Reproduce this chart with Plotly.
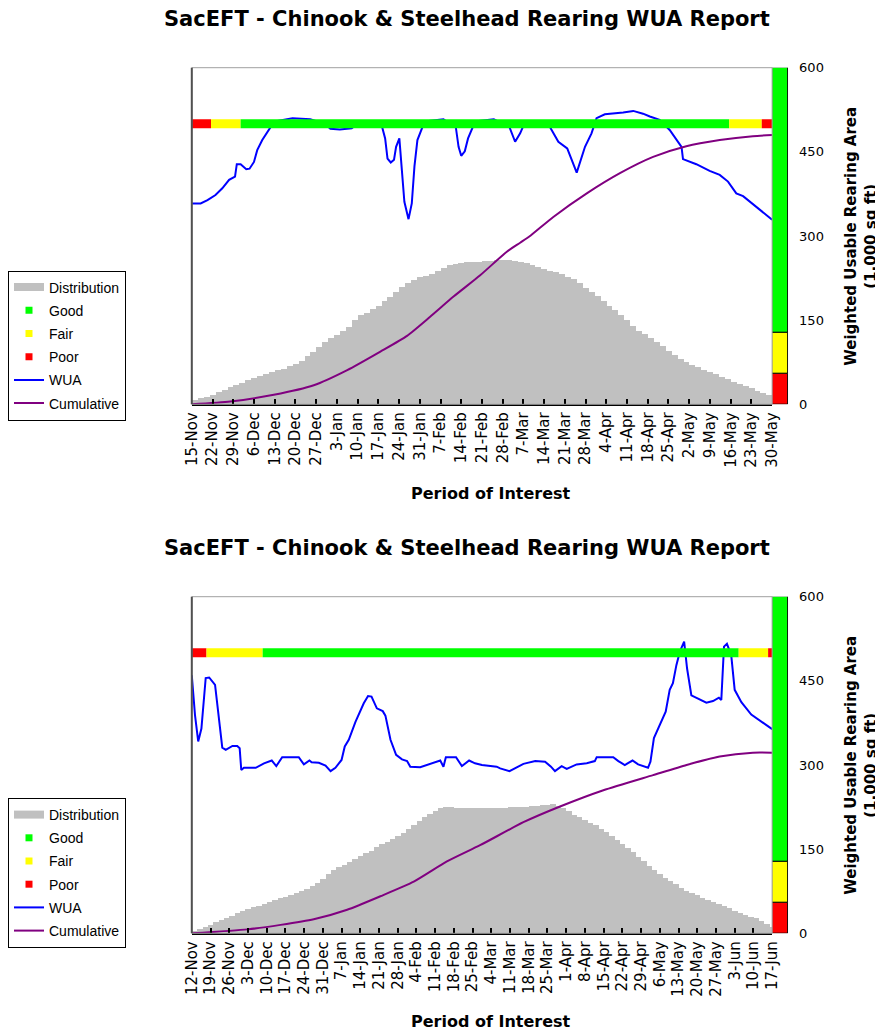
import plotly.graph_objects as go

# ------------------------------------------------------------------ DATA
# Top chart: 15-Nov .. 30-May (day index 0 .. 196)
top_tick_labels = ["15-Nov", "22-Nov", "29-Nov", "6-Dec", "13-Dec", "20-Dec", "27-Dec",
                   "3-Jan", "10-Jan", "17-Jan", "24-Jan", "31-Jan", "7-Feb", "14-Feb",
                   "21-Feb", "28-Feb", "7-Mar", "14-Mar", "21-Mar", "28-Mar", "4-Apr",
                   "11-Apr", "18-Apr", "25-Apr", "2-May", "9-May", "16-May", "23-May", "30-May"]
top_days = 196
# distribution (2-day bins starting at day 0, 2, 4, ...)
top_dist = [8, 11, 14, 18, 22, 26, 31, 35, 39, 43, 47, 51, 55, 58, 61, 64, 68, 72, 77, 86,
            94, 103, 111, 118, 124, 132, 139, 150, 159, 164, 170, 176, 184, 192, 200, 209,
            217, 222, 227, 230, 233, 238, 243, 248, 250, 252, 254, 255, 255, 256, 256, 257,
            257, 257, 256, 255, 252, 248, 245, 242, 239, 236, 232, 228, 224, 216, 208, 201,
            193, 184, 176, 168, 159, 150, 141, 132, 125, 118, 112, 104, 96, 89, 82, 76, 71,
            67, 62, 58, 54, 49, 45, 41, 37, 33, 29, 25, 21, 17, 12]
top_wua_day = [0, 3, 5.3, 8, 10.3, 12.6, 14.6, 15.2, 16.5, 18.4, 19.5, 21, 22.1, 23.8, 26.6,
               29, 34, 40, 45, 46.8, 50, 54, 56, 60, 64.3, 65.3, 66.1, 67.2, 68.3, 69, 70.1,
               70.9, 71.8, 73.2, 74.3, 75.2, 76.2, 77.9, 80, 85, 89.2, 90.1, 91, 92.2, 93.3,
               94.9, 97, 102, 107.3, 109.2, 110.9, 111.8, 114, 118, 121, 123.8, 126.8, 130,
               132.8, 135, 136.7, 139.5, 142.3, 145.7, 149.1, 152.4, 154.7, 158, 161.4, 163.7,
               165.4, 165.9, 170.4, 174.9, 178.3, 181.1, 183.9, 186.2, 190.7, 194, 196]
top_wua = [358, 358, 364, 373, 385, 400, 406, 428, 428, 419, 420, 432, 453, 471, 494,
           505, 510, 508, 500, 491, 490, 492, 500, 505, 494, 474, 438, 431, 436, 459, 474,
           424, 361, 330, 358, 424, 471, 494, 505, 508, 493, 459, 443, 451, 474,
           494, 505, 508, 494, 468, 483, 494, 502, 502, 494, 468, 456, 413,
           459, 483, 510, 517, 518, 520, 523, 518, 513, 507, 489, 471,
           459, 437, 428, 416, 409, 397, 376, 371, 352, 339, 329]
top_cum_day = [0, 13, 27.7, 41.2, 52.5, 63.7, 72.7, 80.5, 88.4, 97.4, 106.4, 110.9, 114,
               122.1, 133.4, 144.6, 155.8, 167, 178.3, 189.5, 196]
top_cum = [0, 5, 17, 34, 61, 94, 122, 156, 192, 230, 272, 288, 299,
           334, 376, 412, 441, 460, 471, 478, 480]
top_status = ["Poor", "Fair", "Good", "Fair", "Poor"]
top_status_len = [7, 10, 165, 11, 4]

# Bottom chart: 12-Nov .. 17-Jun (day index 0 .. 217)
bot_tick_labels = ["12-Nov", "19-Nov", "26-Nov", "3-Dec", "10-Dec", "17-Dec", "24-Dec",
                   "31-Dec", "7-Jan", "14-Jan", "21-Jan", "28-Jan", "4-Feb", "11-Feb",
                   "18-Feb", "25-Feb", "4-Mar", "11-Mar", "18-Mar", "25-Mar", "1-Apr",
                   "8-Apr", "15-Apr", "22-Apr", "29-Apr", "6-May", "13-May", "20-May",
                   "27-May", "3-Jun", "10-Jun", "17-Jun"]
bot_days = 217
bot_dist = [5, 8, 12, 15, 20, 24, 28, 32, 36, 40, 44, 47, 50, 53, 56, 60, 63, 66, 69, 72,
            76, 80, 85, 90, 98, 106, 113, 118, 123, 128, 133, 138, 143, 148, 154, 159, 164,
            169, 174, 180, 187, 193, 200, 207, 214, 219, 224, 225, 225, 224, 224, 224, 224,
            224, 224, 224, 224, 224, 224, 225, 225, 226, 226, 227, 228, 229, 230, 231, 228,
            224, 218, 212, 207, 203, 198, 193, 187, 181, 174, 167, 160, 152, 145, 137, 129,
            121, 114, 107, 100, 94, 88, 82, 76, 72, 68, 64, 60, 57, 53, 49, 45, 41, 37, 34,
            30, 27, 23, 18, 12]
bot_wua_day = [0, 1.2, 2.4, 3.6, 5.2, 6.5, 8.7, 10, 11.4, 12.7, 15.2, 17, 17.9, 18.5, 19.5,
               23.9, 27, 29.9, 31.6, 33.8, 40, 41.9, 44, 44.8, 47.5, 50, 51.9, 53.7, 56, 57.2,
               58.7, 61.2, 63.1, 64.3, 65.9, 67.2, 69.2, 71.4, 72.4, 74.3, 76.4, 78.6, 80.5,
               81.7, 85.4, 91, 92.9, 94.1, 95, 98.8, 100, 101, 103.7, 105.9, 108.5, 114,
               115.3, 118.8, 124, 128.4, 132.1, 134.3, 135.8, 138.3, 140.2, 143.9, 147.7,
               150.7, 151.4, 157.6, 159.5, 161.9, 164.8, 166.9, 170.6, 171.5, 172.8, 175,
               177.2, 178.7, 179.9, 181.2, 182.5, 184.1, 185.2, 186.8, 189.3, 192.4, 194.9,
               197.1, 198, 199, 200.1, 201.7, 203, 205.5, 209.2, 213, 217]
bot_wua = [460, 389, 342, 365, 455, 456, 443, 383, 331, 327, 334, 334, 330, 291, 295,
           295, 303, 308, 298, 314, 314, 301, 308, 305, 304, 299, 289, 295, 309, 333,
           345, 377, 398, 410, 423, 422, 401, 396, 388, 345, 318, 310, 307,
           297, 296, 306, 308, 297, 314, 314, 304, 298, 308, 303, 300, 297,
           294, 289, 302, 307, 306, 297, 289, 298, 293, 301, 303,
           307, 314, 314, 307, 300, 308, 301, 295, 306, 348, 371,
           395, 434, 446, 478, 502, 520, 472, 424, 418, 411, 414,
           420, 416, 511, 516, 496, 434, 412, 390, 377, 364]
bot_cum_day = [0, 20.8, 33.2, 45.6, 58.1, 70.5, 83, 95.4, 107.8, 124, 137.7, 153.9, 172.5,
               185, 197.4, 209.8, 217]
bot_cum = [0, 7, 15, 25, 42, 66, 92, 128, 157, 198, 226, 255, 282, 300, 315, 322, 322]
bot_status = ["Poor", "Fair", "Good", "Fair", "Poor"]
bot_status_len = [6, 21, 178, 11, 2]

# habitat quality thresholds (WUA, 1,000 sq ft)
class_names = ["Poor", "Fair", "Good"]
class_upper = [55, 128, 600]

# ------------------------------------------------------------------ STYLE
WIN_W, WIN_H = 883, 1031
OFF = 8                      # default page body margin
W, H = WIN_W - OFF, WIN_H - OFF
COL = {"Good": "#00FF00", "Fair": "#FFFF00", "Poor": "#FF0000"}
GREY = "#C0C0C0"
BLUE = "#0000FF"
PURPLE = "#800080"
TICKFONT = dict(family="DejaVu Sans", size=15, color="#000000")
status_level = 500
bin_width = 2


def px_x(v):
    return (v - OFF) / W


def px_y(v):
    return 1 - (v - OFF) / H


fig = go.Figure()

panels = [
    dict(sfx="", xs="x", ys="y", x3="x3", leg="legend", days=top_days,
         labels=top_tick_labels, dist=top_dist, wd=top_wua_day, w=top_wua,
         cd=top_cum_day, c=top_cum, st=top_status, stl=top_status_len,
         top=67.7, bottom=404.3, legtop=270.5, title_y=19, xt_y=493),
    dict(sfx="2", xs="x2", ys="y2", x3="x4", leg="legend2", days=bot_days,
         labels=bot_tick_labels, dist=bot_dist, wd=bot_wua_day, w=bot_wua,
         cd=bot_cum_day, c=bot_cum, st=bot_status, stl=bot_status_len,
         top=596.7, bottom=933.3, legtop=798.0, title_y=548, xt_y=1021),
]

annotations = []
shapes = []
layout_axes = {}

for i, p in enumerate(panels):
    xs, ys, x3, leg = p["xs"], p["ys"], p["x3"], p["leg"]
    g = "p%d_" % i
    # distribution bars
    fig.add_trace(go.Bar(
        x=[k * bin_width for k in range(len(p["dist"]))], y=p["dist"],
        width=bin_width, offset=0, marker=dict(color=GREY, line=dict(width=0)),
        xaxis=xs, yaxis=ys, showlegend=False, hoverinfo="skip"))
    # legend entries
    fig.add_trace(go.Scatter(x=[None], y=[None], mode="lines", name="Distribution",
                             line=dict(color=GREY, width=8), xaxis=xs, yaxis=ys,
                             legend=leg, legendgroup=g + "d", legendrank=1))
    for r, nm in enumerate(["Good", "Fair", "Poor"]):
        fig.add_trace(go.Scatter(x=[None], y=[None], mode="markers", name=nm,
                                 marker=dict(color=COL[nm], symbol="square", size=7),
                                 xaxis=xs, yaxis=ys, legend=leg,
                                 legendgroup=g + nm, legendrank=2 + r))
    # WUA & cumulative
    fig.add_trace(go.Scatter(x=p["wd"], y=p["w"], mode="lines", name="WUA",
                             line=dict(color=BLUE, width=2), xaxis=xs, yaxis=ys,
                             legend=leg, legendgroup=g + "w", legendrank=5))
    fig.add_trace(go.Scatter(x=p["cd"], y=p["c"], mode="lines", name="Cumulative",
                             line=dict(color=PURPLE, width=2, shape="spline", smoothing=0.6),
                             xaxis=xs, yaxis=ys,
                             legend=leg, legendgroup=g + "c", legendrank=6))
    # status strip
    start = 0
    for nm, ln in zip(p["st"], p["stl"]):
        fig.add_trace(go.Scatter(x=[start - 0.5, start + ln - 0.5],
                                 y=[status_level, status_level], mode="lines",
                                 line=dict(color=COL[nm], width=9), xaxis=xs, yaxis=ys,
                                 showlegend=False, hoverinfo="skip"))
        start += ln
    # colour key bar on the right
    lo = 0
    for nm, hi in zip(class_names, class_upper):
        fig.add_trace(go.Bar(x=[0.5], y=[hi - lo], base=[lo], width=1,
                             marker=dict(color=COL[nm], line=dict(color="#000000", width=1)),
                             xaxis=x3, yaxis=ys, showlegend=False, hoverinfo="skip"))
        lo = hi

    ydom = [px_y(p["bottom"]), px_y(p["top"])]
    xkey = "xaxis" + p["sfx"]
    ykey = "yaxis" + p["sfx"]
    x3key = "xaxis" + x3[1:]
    layout_axes[xkey] = dict(
        domain=[px_x(191), px_x(772)], anchor=ys, range=[0, p["days"]],
        tickmode="array", tickvals=[7 * k for k in range(len(p["labels"]))],
        ticktext=p["labels"], tickangle=-90, tickfont=TICKFONT,
        ticks="inside", ticklen=5, tickwidth=2, tickcolor="#000000",
        showline=True, linecolor="#000000", linewidth=2, showgrid=False,
        zeroline=False, fixedrange=True, automargin=False)
    layout_axes[x3key] = dict(domain=[px_x(772), px_x(788)], anchor=ys, range=[0, 1],
                              visible=False, fixedrange=True, automargin=False)
    layout_axes[ykey] = dict(
        domain=ydom, anchor="free", position=px_x(788), side="right",
        range=[0, 600], tickvals=[0, 150, 300, 450, 600], tickfont=dict(
            family="DejaVu Sans", size=13, color="#000000"),
        ticks="", ticklabelstandoff=10, showline=False, showgrid=False,
        zeroline=False, fixedrange=True, automargin=False)

    # plot frame
    shapes.append(dict(type="rect", xref=xs + " domain", yref=ys + " domain",
                       x0=0, x1=1, y0=0, y1=1, line=dict(color="#A0A0A0", width=1),
                       layer="above"))
    shapes.append(dict(type="line", xref=xs + " domain", yref=ys + " domain",
                       x0=0, x1=0, y0=0, y1=1, line=dict(color="#505050", width=2),
                       layer="above"))

    annotations.append(dict(
        text="<b>SacEFT - Chinook &amp; Steelhead Rearing WUA Report</b>",
        x=px_x(467), y=px_y(p["title_y"]), xref="paper", yref="paper",
        xanchor="center", yanchor="middle", showarrow=False,
        font=dict(family="DejaVu Sans", size=21, color="#000000")))
    annotations.append(dict(
        text="<b>Period of Interest</b>", x=px_x(491), y=px_y(p["xt_y"]),
        xref="paper", yref="paper", xanchor="center", yanchor="middle",
        showarrow=False, font=dict(family="DejaVu Sans", size=16, color="#000000")))
    annotations.append(dict(
        text="<b>Weighted Usable Rearing Area<br>(1,000 sq ft)</b>",
        x=px_x(861), y=px_y(p["top"] + 169), xref="paper", yref="paper",
        xanchor="center", yanchor="middle", textangle=-90, showarrow=False,
        font=dict(family="DejaVu Sans", size=15, color="#000000")))

    layout_axes[leg] = dict(
        x=px_x(6.7), y=px_y(p["legtop"]), xanchor="left", yanchor="top",
        bgcolor="#FFFFFF", bordercolor="#000000", borderwidth=1,
        font=dict(family="Liberation Sans, Arial", size=14, color="#000000"),
        tracegroupgap=2, traceorder="grouped")

fig.update_layout(
    width=W, height=H, autosize=False,
    margin=dict(l=0, r=0, t=0, b=0, pad=0),
    paper_bgcolor="#FFFFFF", plot_bgcolor="#FFFFFF",
    barmode="overlay", bargap=0,
    annotations=annotations, shapes=shapes,
    **layout_axes)

fig.write_html("out.html")
